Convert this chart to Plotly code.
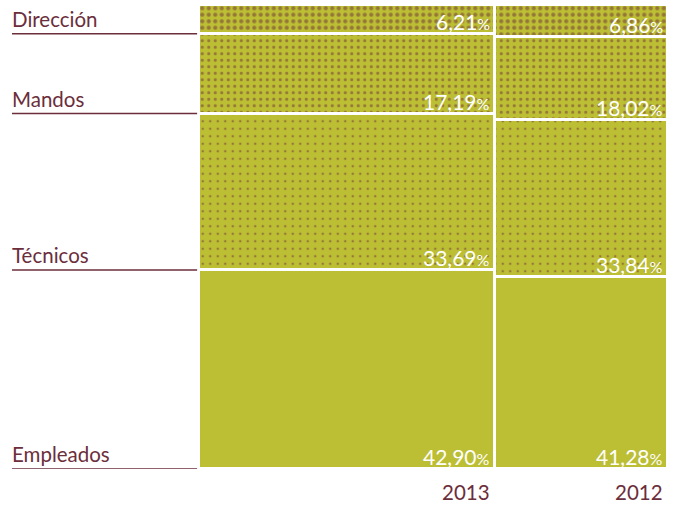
import plotly.graph_objects as go

years = ["2013", "2012"]
categories = ["Empleados", "Técnicos", "Mandos", "Dirección"]
values = {
    "Empleados": [42.90, 41.28],
    "Técnicos": [33.69, 33.84],
    "Mandos": [17.19, 18.02],
    "Dirección": [6.21, 6.86],
}

GREEN = "#BCBE34"
MAROON = "#6B2E3B"
FONT = "Lato"

# column geometry (x axis 0..1)
col_left = [0.0, 0.6311]
col_right = [0.6311, 1.0]
centers = [(a + b) / 2 for a, b in zip(col_left, col_right)]
widths = [b - a for a, b in zip(col_left, col_right)]

patterns = {
    "Empleados": None,
    "Técnicos": dict(shape=".", fgcolor=MAROON, size=7.5, solidity=0.09),
    "Mandos": dict(shape=".", fgcolor=MAROON, size=6.5, solidity=0.18),
    "Dirección": dict(shape=".", fgcolor=MAROON, size=6.5, solidity=0.32),
}

fig = go.Figure()
for cat in categories:
    marker = dict(color=GREEN, line=dict(color="white", width=3))
    if patterns[cat]:
        marker["pattern"] = patterns[cat]
    fig.add_trace(go.Bar(
        x=centers, y=values[cat], width=widths, name=cat,
        marker=marker, hoverinfo="skip", showlegend=False,
    ))

annotations = []
shapes = []
# value labels
for i in range(len(years)):
    base = 0.0
    for cat in categories:
        v = values[cat][i]
        txt = f"{v:.2f}".replace(".", ",") + "<span style='font-size:16px'>%</span>"
        annotations.append(dict(
            x=col_right[i], y=base, xref="x", yref="y",
            text=txt, showarrow=False, xanchor="right", yanchor="bottom",
            xshift=-3, yshift=-2,
            font=dict(family=FONT, size=21, color="white"),
        ))
        base += v

# category labels and underline rules (aligned with 2013 column)
base = 0.0
for cat in categories:
    annotations.append(dict(
        x=-0.3987, y=base, xref="paper", yref="y", text=cat,
        showarrow=False, xanchor="left", yanchor="bottom", yshift=1, xshift=-2,
        font=dict(family=FONT, size=20.5, color=MAROON),
    ))
    shapes.append(dict(
        type="line", xref="paper", yref="y", x0=-0.3987, x1=-0.004,
        y0=base, y1=base, line=dict(color=MAROON, width=1.5),
    ))
    base += values[cat][0]

# year labels
for i, yr in enumerate(years):
    annotations.append(dict(
        x=col_right[i], y=0, xref="x", yref="paper", text=yr,
        showarrow=False, xanchor="right", yanchor="top", xshift=-3, yshift=-9,
        font=dict(family=FONT, size=20.5, color=MAROON),
    ))

fig.update_layout(
    width=674, height=505,
    margin=dict(l=199, r=6, t=5, b=36),
    barmode="stack", bargap=0,
    plot_bgcolor="white", paper_bgcolor="white",
    xaxis=dict(range=[0, 1], visible=False, fixedrange=True),
    yaxis=dict(range=[0, 100], visible=False, fixedrange=True),
    annotations=annotations, shapes=shapes,
)

fig.write_html("out.html", config={"displayModeBar": False},
               post_script="document.body.style.margin='0';")
